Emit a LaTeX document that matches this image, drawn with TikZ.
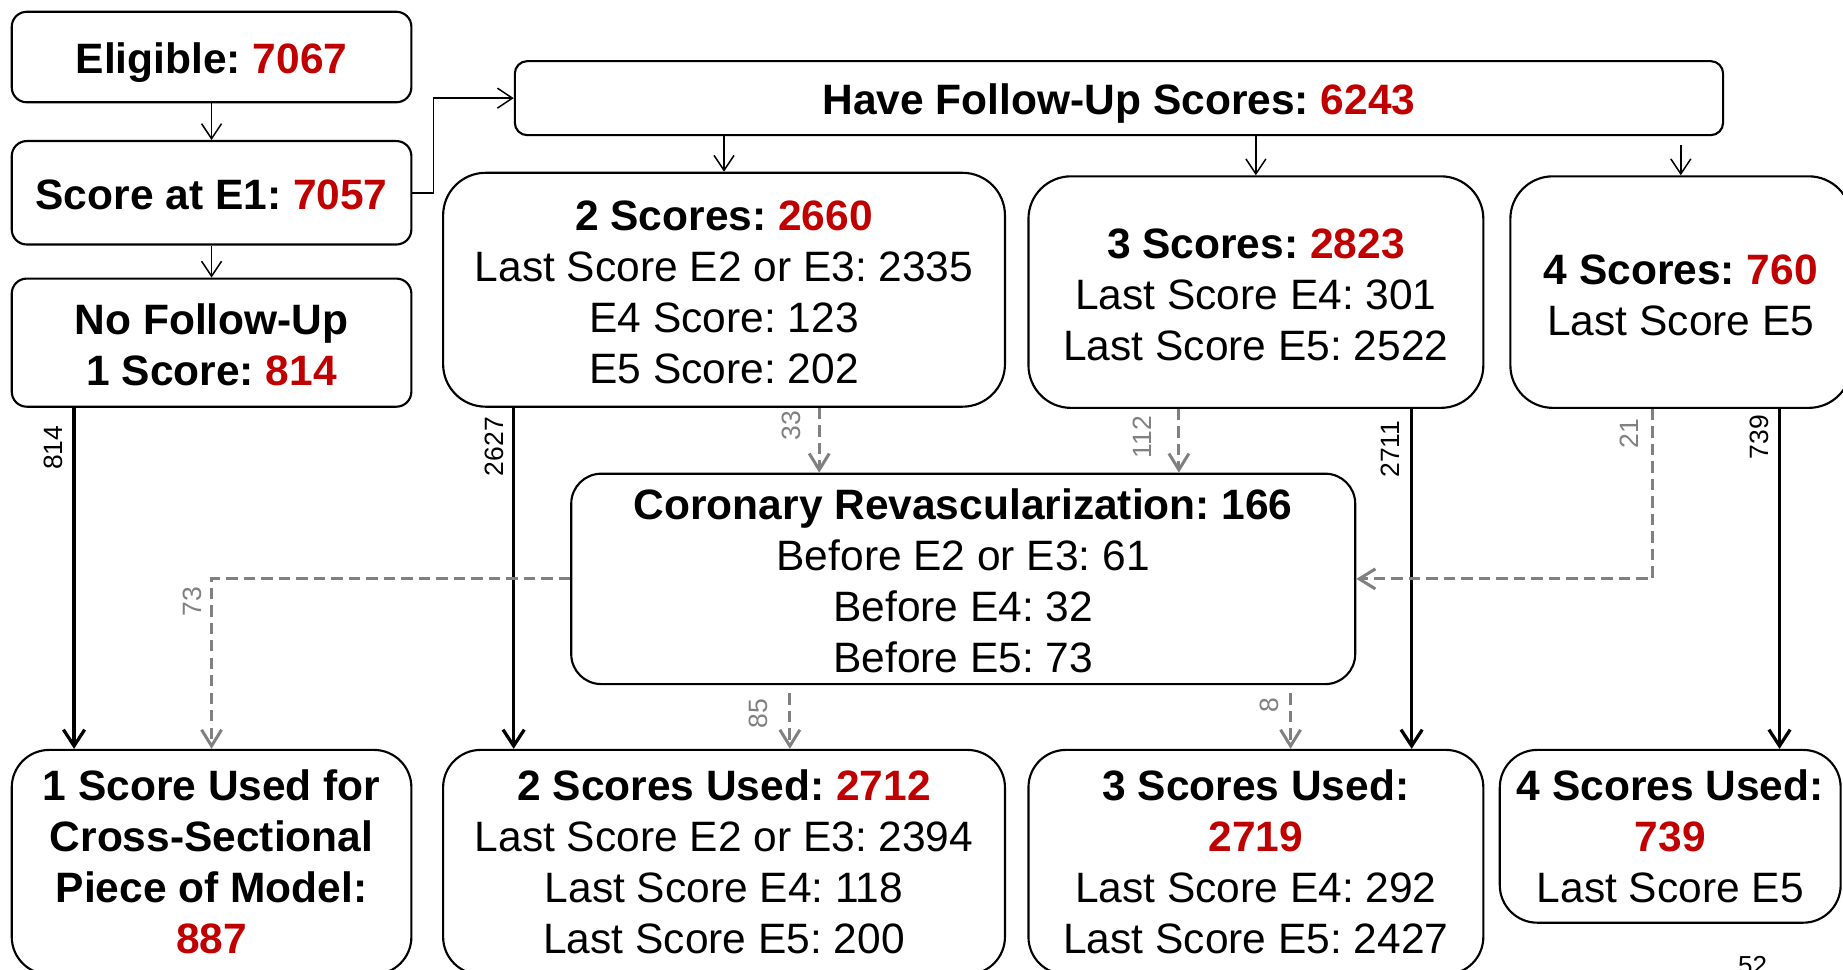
\documentclass[tikz,border=0pt]{standalone}
\usepackage{fontspec}
\setmainfont{Liberation Sans}
\usetikzlibrary{arrows.meta}
\definecolor{nred}{RGB}{192,0,0}
\definecolor{ngray}{RGB}{128,128,128}
\newcommand{\rn}[1]{\textcolor{nred}{#1}}
\newcommand{\fls}{\rule{0pt}{14.2pt}}
\frenchspacing
\begin{document}
\begin{tikzpicture}[x=0.4702pt, y=-0.4702pt,
  box/.style={draw, line width=0.85pt, rounded corners=#1, align=center, inner sep=0pt,
    font=\fontsize{17}{20.4}\selectfont\frenchspacing},
  box/.default=6pt,
  oneline/.style={execute at begin node={\rule{0pt}{16.8pt}},
    execute at end node={\rule[-3.6pt]{0pt}{3.6pt}}},
  wh/.style n args={2}{minimum width=#1*0.4702pt, minimum height=#2*0.4702pt},
  thin/.style={line width=0.6pt, -{Straight Barb[length=6pt,width=8pt]}},
  solidarr/.style={line width=1.3pt, -{Straight Barb[length=6.5pt,width=8.5pt]}},
  dsh/.style={draw=ngray, line width=1.2pt, dash pattern=on 4.5pt off 2.5pt,
    -{Straight Barb[length=6.5pt,width=8pt]}},
  lab/.style={rotate=90, inner sep=0pt, font=\fontsize{10.6}{12}\selectfont},
  glab/.style={lab, text=ngray}]
\useasboundingbox (0,0) rectangle (1568,825);
\clip (0,0) rectangle (1568,825);

% column coordinates
\coordinate (k63) at (63,0);
\coordinate (k437) at (437,0);
\coordinate (k1201) at (1201,0);
\coordinate (k1514) at (1514,0);
\coordinate (k697) at (697,0);
\coordinate (k1003) at (1003,0);
\coordinate (k1406) at (1406,0);
\coordinate (k672) at (672,0);
\coordinate (k1098) at (1098,0);

% boxes
\node[box, oneline, wh={340}{77}] (elig) at (180,48.5) {\textbf{Eligible: \rn{7067}}};
\node[box, oneline, wh={340}{88}] (score) at (180,164) {\textbf{Score at E1: \rn{7057}}};
\node[box, wh={340}{109}] (nofu) at (180,291.5) {\fls\textbf{No Follow-Up}\\\textbf{1 Score: \rn{814}}};
\node[box=5pt, oneline, wh={1028}{63}] (have) at (952,83.5) {\textbf{Have Follow-Up Scores: \rn{6243}}};
\node[box=17pt, wh={478}{199}] (two) at (616,246.5) {\fls\textbf{2 Scores: \rn{2660}}\\Last Score E2 or E3: 2335\\E4 Score: 123\\E5 Score: 202};
\node[box=17pt, wh={387}{197}] (three) at (1068.5,248.5) {\fls\textbf{3 Scores: \rn{2823}}\\Last Score E4: 301\\Last Score E5: 2522};
\node[box=17pt, wh={290}{197}] (four) at (1430,248.5) {\fls\textbf{4 Scores: \rn{760}}\\Last Score E5};
\node[box=12pt, wh={667}{179}] (coro) at (819.5,492.5) {\fls\textbf{Coronary Revascularization: 166}\\Before E2 or E3: 61\\Before E4: 32\\Before E5: 73};
\node[box=15pt, wh={340}{191}] (used1) at (180,733.5) {\textbf{1 Score Used for}\\\textbf{Cross-Sectional}\\\textbf{Piece of Model:}\\\textbf{\rn{887}}};
\node[box=15pt, wh={478}{191}] (used2) at (616,733.5) {\textbf{2 Scores Used: \rn{2712}}\\Last Score E2 or E3: 2394\\Last Score E4: 118\\Last Score E5: 200};
\node[box=15pt, wh={387}{191}] (used3) at (1068.5,733.5) {\textbf{3 Scores Used:}\\\textbf{\rn{2719}}\\Last Score E4: 292\\Last Score E5: 2427};
\node[box=15pt, wh={290}{147}] (used4) at (1421,711.5) {\textbf{4 Scores Used:}\\\textbf{\rn{739}}\\Last Score E5};

% thin connectors
\draw[thin] (elig.south) -- (score.north);
\draw[thin] (score.south) -- (nofu.north);
\draw[thin] (score.east) -- ++(18,0) |- (have.west);
\draw[thin] (two.north |- have.south) -- (two.north);
\draw[thin] (three.north |- have.south) -- (three.north);
\draw[thin, shorten <=3.5pt] (four.north |- have.south) -- (four.north);

% solid thick connectors
\draw[solidarr] (nofu.south -| k63) -- (used1.north -| k63);
\draw[solidarr] (two.south -| k437) -- (used2.north -| k437);
\draw[solidarr] (three.south -| k1201) -- (used3.north -| k1201);
\draw[solidarr] (four.south -| k1514) -- (used4.north -| k1514);

% dashed connectors
\draw[dsh] (two.south -| k697) -- (coro.north -| k697);
\draw[dsh] (three.south -| k1003) -- (coro.north -| k1003);
\draw[dsh] (four.south -| k1406) |- (coro.east);
\draw[dsh] (coro.west) -| (used1.north);
\draw[dsh, shorten <=3.3pt] (coro.south -| k672) -- (used2.north -| k672);
\draw[dsh, shorten <=3.3pt] (coro.south -| k1098) -- (used3.north -| k1098);

% labels
\node[lab] (l814) at (45,381) {814};
\node[lab] (l2627) at (421,380) {2627};
\node[lab] (l2711) at (1183,382) {2711};
\node[lab] (l739) at (1497,372) {739};
\node[glab] (l33) at (673,362) {33};
\node[glab] (l112) at (972,372) {112};
\node[glab] (l21) at (1386,369) {21};
\node[glab] (l73) at (164,512) {73};
\node[glab] (l85) at (645,607) {85};
\node[glab] (l8) at (1080,600) {8};

% page number
\node[anchor=base, inner sep=0pt, font=\fontsize{10.4}{12}\selectfont] (pg) at (1491,829) {52};
\end{tikzpicture}
\end{document}
